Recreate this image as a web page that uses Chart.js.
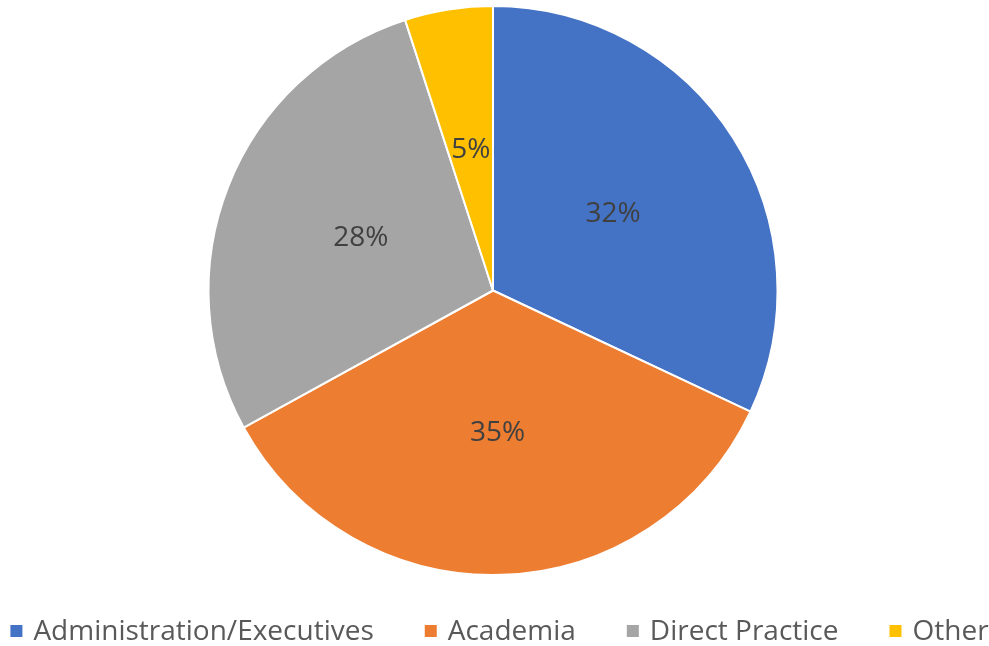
<!DOCTYPE html>
<html>
<head>
<meta charset="utf-8">
<script src="https://cdn.jsdelivr.net/npm/chart.js@4/dist/chart.umd.min.js"></script>
<style>
  html, body { margin: 0; padding: 0; background: #fff; }
  canvas { display: block; }
</style>
</head>
<body>
<canvas id="grafico" width="989" height="646"></canvas>
<script>
const categorias = ['Administration/Executives', 'Academia', 'Direct Practice', 'Other'];
const valores = [32, 35, 28, 5];
const cores = ['#4472C4', '#ED7D31', '#A5A5A5', '#FFC000'];

const fonte = '"Open Sans", Calibri, sans-serif';

// rótulos de porcentagem dentro das fatias
const rotulosPlugin = {
    id: 'rotulos',
    afterDatasetsDraw(chart) {
        const ctx = chart.ctx;
        const meta = chart.getDatasetMeta(0);
        const total = valores.reduce((a, b) => a + b, 0);
        ctx.save();
        ctx.font = '28px ' + fonte;
        ctx.fillStyle = '#404040';
        ctx.textAlign = 'center';
        ctx.textBaseline = 'middle';
        meta.data.forEach((arc, i) => {
            const meio = (arc.startAngle + arc.endAngle) / 2;
            const r = arc.outerRadius * 0.5;
            const x = arc.x + Math.cos(meio) * r;
            const y = arc.y + Math.sin(meio) * r;
            ctx.fillText(Math.round(valores[i] / total * 100) + '%', x, y);
        });
        ctx.restore();
    }
};

// legenda desenhada à mão na parte de baixo
const legendaPlugin = {
    id: 'legenda',
    afterDraw(chart) {
        const ctx = chart.ctx;
        ctx.save();
        ctx.font = '28px ' + fonte;
        ctx.textBaseline = 'alphabetic';
        const caixa = 12;
        const espaco = 11;
        const gap = 51;
        const larguras = categorias.map(c => caixa + espaco + ctx.measureText(c).width);
        const total = larguras.reduce((a, b) => a + b, 0) + gap * (categorias.length - 1);
        let x = (chart.width - total) / 2 + 5;
        const y = 631;
        categorias.forEach((c, i) => {
            ctx.fillStyle = cores[i];
            ctx.fillRect(x, y - caixa / 2, caixa, caixa);
            ctx.fillStyle = '#595959';
            ctx.fillText(c, x + caixa + espaco, 640);
            x += larguras[i] + gap;
        });
        ctx.restore();
    }
};

new Chart(document.getElementById('grafico').getContext('2d'), {
    type: 'pie',
    data: {
        labels: categorias,
        datasets: [{
            data: valores,
            backgroundColor: cores,
            borderColor: '#ffffff',
            borderWidth: 2
        }]
    },
    options: {
        responsive: false,
        animation: false,
        layout: {
            padding: { top: 5, bottom: 70, left: 0, right: 3 }
        },
        plugins: {
            legend: { display: false },
            tooltip: { enabled: false }
        }
    },
    plugins: [rotulosPlugin, legendaPlugin]
});
</script>
</body>
</html>
